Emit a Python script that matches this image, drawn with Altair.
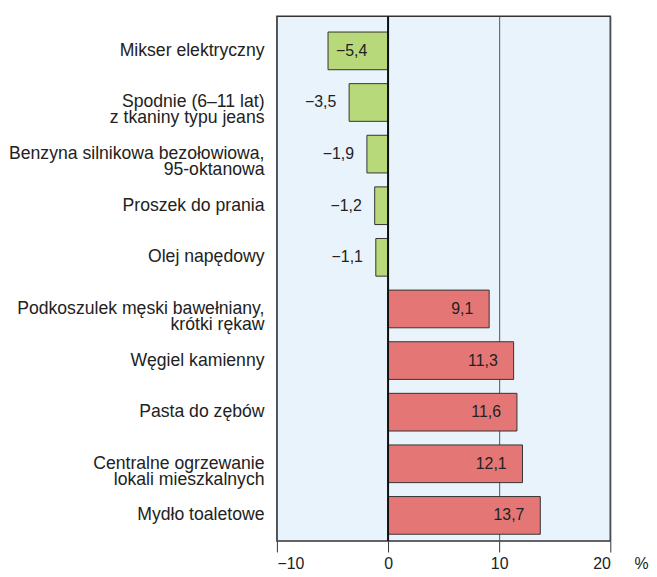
import altair as alt
import pandas as pd

categories = [
    "Mikser elektryczny",
    "Spodnie (6–11 lat)|z tkaniny typu jeans",
    "Benzyna silnikowa bezołowiowa,|95-oktanowa",
    "Proszek do prania",
    "Olej napędowy",
    "Podkoszulek męski bawełniany,|krótki rękaw",
    "Węgiel kamienny",
    "Pasta do zębów",
    "Centralne ogrzewanie|lokali mieszkalnych",
    "Mydło toaletowe",
]
values = [-5.4, -3.5, -1.9, -1.2, -1.1, 9.1, 11.3, 11.6, 12.1, 13.7]
x_ticks = [-10, 0, 10, 20]

df = pd.DataFrame({"cat": categories, "val": values})
df["lbl"] = [f"{v:.1f}".replace(".", ",").replace("-", "\u2212") for v in values]
df["sign"] = ["neg" if v < 0 else "pos" for v in values]

FONT = "Liberation Sans"
TXT = "#222222"

yenc = alt.Y(
    "cat:N",
    sort=categories,
    scale=alt.Scale(paddingInner=0.27, paddingOuter=0.22, align=0.7),
    axis=alt.Axis(
        title=None, ticks=False, domain=False, labelPadding=13,
        labelFontSize=17.75, labelColor=TXT, labelFont=FONT,
        labelLineHeight=16, labelExpr="split(datum.label, '|')",
        labelLimit=400,
    ),
)
xenc = alt.X(
    "val:Q",
    scale=alt.Scale(domain=[-10, 20], nice=False, zero=False),
    axis=alt.Axis(
        values=x_ticks, title="%", titleAngle=0, titleX=367, titleY=15,
        titleBaseline="top", titleFontWeight="normal", titleFontSize=16,
        titleFont=FONT, titleColor=TXT,
        labelExpr="replace(datum.label, '-', '\u2212')",
        labelFontSize=16, labelColor=TXT, labelFont=FONT, labelPadding=4,
        tickSize=11, tickColor="#333333", domain=False,
        grid=True, gridColor="#555555", gridWidth=1,
    ),
)

base = alt.Chart(df)

bars = base.mark_bar(stroke="#333333", strokeWidth=1).encode(
    x=xenc,
    x2=alt.datum(0),
    y=yenc,
    color=alt.Color("sign:N", scale=alt.Scale(domain=["neg", "pos"], range=["#b8d97a", "#e57676"]), legend=None),
)

zero = alt.Chart(pd.DataFrame({"z": [0]})).mark_rule(color="#111111", strokeWidth=2).encode(x="z:Q")

txt_kw = dict(fontSize=16, font=FONT, color=TXT, baseline="middle")
lab_pos = base.transform_filter("datum.val > 0").mark_text(align="right", dx=-16, **txt_kw).encode(
    x="val:Q", y=alt.Y("cat:N", sort=categories), text="lbl:N")
lab_negin = base.transform_filter("datum.val < -5").mark_text(align="left", dx=8, **txt_kw).encode(
    x="val:Q", y=alt.Y("cat:N", sort=categories), text="lbl:N")
lab_negout = base.transform_filter("datum.val < 0 && datum.val >= -5").mark_text(align="right", dx=-13, **txt_kw).encode(
    x="val:Q", y=alt.Y("cat:N", sort=categories), text="lbl:N")

chart = alt.layer(bars, zero, lab_pos, lab_negin, lab_negout).properties(
    width=336, height=529,
    padding={"left": 0, "top": 5, "right": 0, "bottom": 0},
).configure_view(fill="#e8f3fb", stroke="#333333", strokeWidth=1.5)

chart.save("out.html", embed_options={"renderer": "svg", "actions": False})
